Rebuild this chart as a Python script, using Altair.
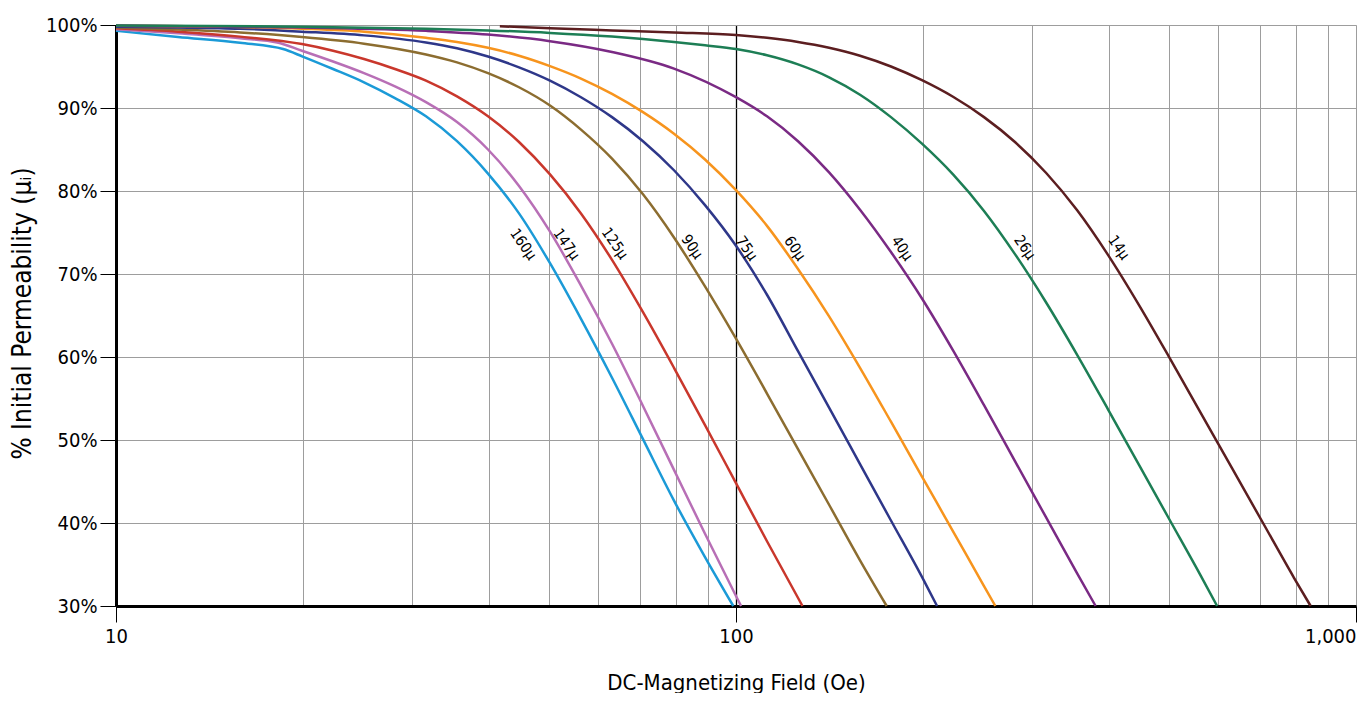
import altair as alt
import pandas as pd

FONT = "DejaVu Sans Condensed, DejaVu Sans, sans-serif"

grades = ["160µ", "147µ", "125µ", "90µ", "75µ", "60µ", "40µ", "26µ", "14µ"]
colors = ["#1b9ad7", "#b86fb6", "#c9372c", "#8c6d30", "#2e3789",
          "#f7941d", "#7a2a84", "#1d7e55", "#5c1e20"]

# DC field (Oe) and % initial permeability
h_160 = [10, 12.59, 15.85, 18.6, 20, 22.39, 25.12, 28.18, 31.62, 35.48, 39.81, 44.67,
         50.12, 56.23, 63.1, 70.79, 79.43, 89.13, 99]
p_160 = [99.3, 98.55, 97.85, 97.1, 96.2, 94.7, 93.1, 91.2, 89.0, 86.0, 82.1, 77.3,
         71.3, 64.6, 57.5, 50.1, 42.7, 35.9, 30]

h_147 = [10, 12.59, 15.85, 18.2, 19.95, 22.39, 25.12, 28.18, 31.62, 35.48, 39.81, 44.67,
         50.12, 56.23, 63.1, 70.79, 79.43, 89.13, 100, 101.9]
p_147 = [99.5, 99.0, 98.4, 97.9, 96.9, 95.6, 94.2, 92.6, 90.7, 88.3, 85.0, 80.6,
         75.1, 68.6, 61.6, 54.1, 46.4, 38.7, 31.2, 30]

h_125 = [10, 12.59, 15.85, 19.95, 22.39, 25.12, 28.18, 31.62, 35.48, 39.81, 44.67, 50.12,
         56.23, 63.1, 70.79, 79.43, 89.13, 100, 112.2, 128]
p_125 = [99.6, 99.2, 98.6, 97.7, 96.9, 95.9, 94.7, 93.3, 91.4, 89.0, 85.9, 82.0,
         77.3, 71.7, 65.4, 58.7, 51.8, 44.8, 37.8, 30]

h_90 = [10, 12.59, 15.85, 19.95, 25.12, 31.62, 35.48, 39.81, 44.67, 50.12, 56.23, 63.1,
        70.79, 79.43, 89.13, 100, 112.2, 125.9, 141.3, 158.5, 175]
p_90 = [99.7, 99.45, 99.1, 98.55, 97.75, 96.45, 95.5, 94.2, 92.5, 90.3, 87.4, 83.9,
        79.6, 74.4, 68.5, 62.2, 55.6, 48.9, 42.2, 35.5, 30]

h_75 = [10, 12.59, 15.85, 19.95, 25.12, 31.62, 35.48, 39.81, 44.67, 50.12, 56.23, 63.1,
        70.79, 79.43, 89.13, 100, 112.2, 125.9, 141.3, 158.5, 177.8, 199.5, 211]
p_75 = [99.8, 99.7, 99.55, 99.2, 98.75, 97.9, 97.2, 96.2, 94.9, 93.3, 91.3, 88.9,
        86.0, 82.5, 78.3, 73.4, 67.5, 60.7, 53.9, 47.1, 40.3, 33.5, 30]

h_60 = [10, 15.85, 19.95, 25.12, 31.62, 35.48, 39.81, 44.67, 50.12, 56.23, 63.1, 70.79,
        79.43, 89.13, 100, 112.2, 125.9, 141.3, 158.5, 177.8, 199.5, 223.9, 251.2, 262]
p_60 = [99.9, 99.75, 99.55, 99.2, 98.45, 97.95, 97.25, 96.3, 95.05, 93.55, 91.7, 89.5,
        86.9, 83.8, 80.1, 75.8, 70.6, 64.9, 58.7, 52.2, 45.6, 39.0, 32.4, 30]

h_40 = [10, 19.95, 31.62, 39.81, 50.12, 63.1, 79.43, 100, 112.2, 125.9, 141.3, 158.5,
        177.8, 199.5, 223.9, 251.2, 281.8, 316.2, 354.8, 380.2]
p_40 = [99.95, 99.7, 99.3, 98.85, 98.05, 96.75, 94.75, 91.3, 89.0, 86.0, 82.25, 77.75,
        72.65, 67.05, 60.8, 54.2, 47.45, 40.7, 33.95, 30]

h_26 = [10, 19.95, 31.62, 39.81, 50.12, 63.1, 70.79, 79.43, 89.13, 100, 112.2, 125.9,
        141.3, 158.5, 177.8, 199.5, 223.9, 251.2, 281.8, 316.2, 354.8, 398.1, 446.7,
        501.2, 562.3, 597]
p_26 = [99.95, 99.8, 99.55, 99.35, 99.05, 98.6, 98.3, 97.95, 97.55, 97.1, 96.35, 95.25,
        93.7, 91.6, 88.9, 85.7, 82.0, 77.6, 72.4, 66.6, 60.3, 53.7, 47.0,
        40.3, 33.6, 30]

h_14 = [41.6, 50.12, 63.1, 79.43, 100, 112.2, 125.9, 141.3, 158.5, 177.8, 199.5, 223.9,
        251.2, 281.8, 316.2, 354.8, 398.1, 446.7, 501.2, 562.3, 631, 708, 794.3, 845]
p_14 = [99.85, 99.6, 99.35, 99.1, 98.8, 98.45, 97.95, 97.25, 96.3, 95.0, 93.35, 91.35,
        88.9, 85.9, 82.2, 77.7, 72.3, 66.25, 59.8, 53.2, 46.6, 40.0, 33.4, 30]

series_h = [h_160, h_147, h_125, h_90, h_75, h_60, h_40, h_26, h_14]
series_p = [p_160, p_147, p_125, p_90, p_75, p_60, p_40, p_26, p_14]

label_h = [45.4, 53.3, 63.8, 85.0, 104.1, 124.5, 185.4, 292.5, 414.7]
label_p = [73.6, 73.6, 73.7, 73.3, 73.1, 73.1, 73.1, 73.2, 73.2]

x_grid = [10, 20, 30, 40, 50, 60, 70, 80, 90, 100,
          200, 300, 400, 500, 600, 700, 800, 900, 1000]
y_ticks = [30, 40, 50, 60, 70, 80, 90, 100]

rows = []
for g, hs, ps in zip(grades, series_h, series_p):
    for h, p in zip(hs, ps):
        rows.append({"grade": g, "H": h, "P": p})
df = pd.DataFrame(rows)
lab = pd.DataFrame({"grade": grades, "H": label_h, "P": label_p})

xscale = alt.Scale(type="log", domain=[10, 1000], nice=False)
yscale = alt.Scale(domain=[30, 100], nice=False, zero=False)

major = "(datum.value == 10 || datum.value == 100 || datum.value == 1000)"

x_axis = alt.Axis(
    values=x_grid,
    labelExpr=f"{major} ? format(datum.value, ',') : ''",
    labelOverlap=False,
    labelFont=FONT, labelFontSize=20, labelColor="#000000",
    labelPadding=4, labelBaseline="top",
    labelAlign={"condition": {"test": "datum.value == 1000", "value": "right"}, "value": "center"},
    tickSize=16, tickColor="#000000", tickWidth=1,
    tickOpacity={"condition": {"test": major, "value": 1}, "value": 0},
    domainColor="#000000", domainWidth=3,
    grid=True,
    gridColor={"condition": {"test": "datum.value == 100", "value": "#000000"}, "value": "#9d9d9d"},
    gridWidth={"condition": {"test": "datum.value == 100", "value": 1.3}, "value": 1},
    title="DC-Magnetizing Field (Oe)",
    titleFont=FONT, titleFontSize=22, titleFontWeight="normal", titleColor="#000000",
    titleX=620, titleY=76, titleBaseline="middle", titleAlign="center",
)

y_axis = alt.Axis(
    values=y_ticks,
    labelExpr="datum.value + '%'",
    labelFont=FONT, labelFontSize=20, labelColor="#000000", labelPadding=3,
    tickSize=16, tickColor="#000000", tickWidth=1,
    domainColor="#000000", domainWidth=3,
    grid=True, gridColor="#9d9d9d", gridWidth=1,
    title="% Initial Permeability (µᵢ)",
    titleFont=FONT, titleFontSize=26, titleFontWeight="normal", titleColor="#000000",
    titleX=-94, titleY=288, titleAngle=-90, titleAlign="center", titleBaseline="middle",
)

lines = alt.Chart(df).mark_line(strokeWidth=2.5, interpolate="monotone").encode(
    x=alt.X("H:Q", scale=xscale, axis=x_axis),
    y=alt.Y("P:Q", scale=yscale, axis=y_axis),
    color=alt.Color("grade:N", scale=alt.Scale(domain=grades, range=colors), legend=None),
    detail="grade:N",
)

labels = alt.Chart(lab).mark_text(
    font=FONT, fontSize=15, angle=55, align="center", baseline="middle", color="#000000"
).encode(
    x=alt.X("H:Q", scale=xscale),
    y=alt.Y("P:Q", scale=yscale),
    text="grade:N",
)

chart = alt.layer(lines, labels).properties(
    width=1240, height=581,
    autosize=alt.AutoSizeParams(type="none"),
    padding={"left": 108, "top": 17, "right": 1, "bottom": 87},
).configure_view(
    fill="#e8e8e3", stroke="#000000", strokeWidth=3
).configure(background="#ffffff")

chart.save("out.html", embed_options={"renderer": "svg", "actions": False})
